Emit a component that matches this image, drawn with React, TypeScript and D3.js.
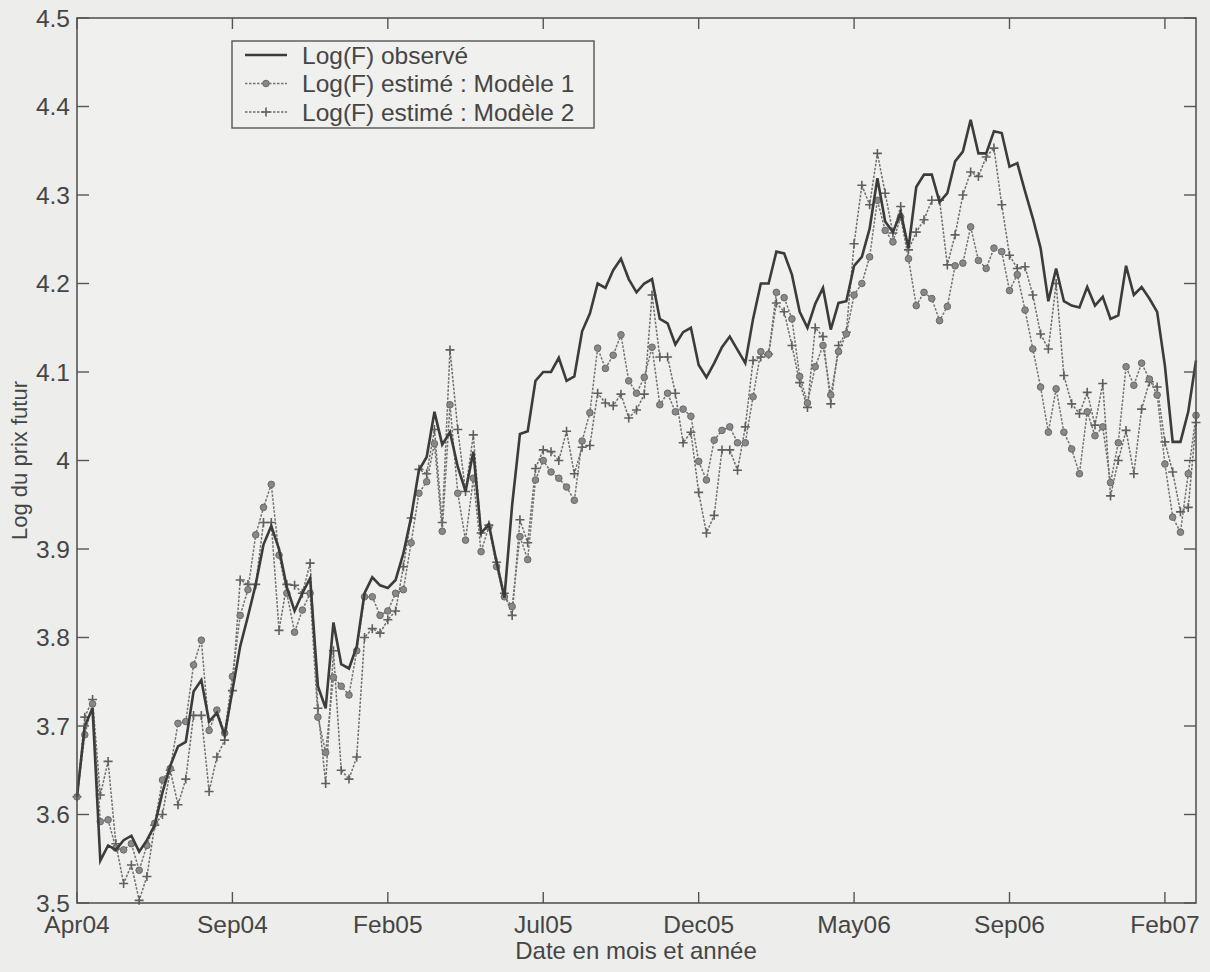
import React from "react";
import * as d3 from "d3";

const observed = [
  3.62, 3.70, 3.72, 3.548, 3.565, 3.56, 3.571, 3.576, 3.558, 3.571,
  3.588, 3.625, 3.655, 3.677, 3.682, 3.739, 3.752, 3.705, 3.715, 3.69,
  3.74, 3.79, 3.824, 3.86, 3.905, 3.926, 3.9, 3.857, 3.83, 3.85,
  3.867, 3.745, 3.72, 3.817, 3.77, 3.765, 3.79, 3.85, 3.868, 3.859,
  3.856, 3.865, 3.895, 3.936, 3.989, 4.004, 4.055, 4.018, 4.032, 3.993,
  3.965, 4.01, 3.918, 3.928, 3.885, 3.845, 3.95, 4.03, 4.033, 4.09,
  4.1, 4.1, 4.116, 4.09, 4.095, 4.146, 4.166, 4.2, 4.195, 4.215,
  4.228, 4.205, 4.19, 4.2, 4.205, 4.16, 4.155, 4.131, 4.145, 4.15,
  4.108, 4.094, 4.11, 4.128, 4.14, 4.125, 4.11, 4.16, 4.2, 4.2,
  4.236, 4.234, 4.21, 4.168, 4.15, 4.177, 4.195, 4.148, 4.178, 4.18,
  4.22, 4.23, 4.262, 4.319, 4.27, 4.258, 4.28, 4.24, 4.309, 4.323,
  4.323, 4.292, 4.302, 4.338, 4.349, 4.385, 4.347, 4.347, 4.372, 4.37,
  4.332, 4.336, 4.304, 4.274, 4.24, 4.18, 4.217, 4.18, 4.175, 4.173,
  4.196, 4.175, 4.185, 4.16, 4.164, 4.22, 4.187, 4.196, 4.183, 4.168,
  4.107, 4.021, 4.021, 4.055, 4.113,
];

const model1 = [
  3.62, 3.69, 3.725, 3.592, 3.594, 3.562, 3.56, 3.567, 3.537, 3.565,
  3.59, 3.639, 3.652, 3.703, 3.705, 3.769, 3.797, 3.695, 3.718, 3.692,
  3.756, 3.825, 3.854, 3.916, 3.947, 3.973, 3.893, 3.85, 3.806, 3.831,
  3.85, 3.71, 3.67, 3.755, 3.745, 3.735, 3.785, 3.846, 3.846, 3.825,
  3.83, 3.85, 3.854, 3.907, 3.963, 3.976, 4.019, 3.92, 4.063, 3.963,
  3.91, 3.98, 3.897, 3.925, 3.88, 3.846, 3.835, 3.914, 3.888, 3.978,
  4.0, 3.987, 3.98, 3.97, 3.955, 4.022, 4.054, 4.127, 4.104, 4.119,
  4.142, 4.09, 4.076, 4.094, 4.128, 4.063, 4.076, 4.055, 4.058, 4.05,
  3.999, 3.978, 4.023, 4.034, 4.038, 4.02, 4.02, 4.072, 4.123, 4.12,
  4.19, 4.184, 4.16, 4.095, 4.065, 4.106, 4.13, 4.074, 4.123, 4.143,
  4.187, 4.2, 4.23, 4.294, 4.26, 4.247, 4.275, 4.228, 4.175, 4.19,
  4.183, 4.158, 4.174, 4.22, 4.223, 4.264, 4.226, 4.217, 4.24, 4.236,
  4.192, 4.21, 4.17, 4.126, 4.083, 4.032, 4.081, 4.032, 4.013, 3.985,
  4.055, 4.028, 4.038, 3.975, 4.02, 4.106, 4.085, 4.11, 4.092, 4.074,
  3.996, 3.936, 3.919, 3.985, 4.051,
];

const model2 = [
  3.62, 3.71, 3.73, 3.622, 3.66, 3.567, 3.522, 3.543, 3.503, 3.53,
  3.588, 3.6, 3.65, 3.611, 3.64, 3.712, 3.712, 3.626, 3.665, 3.684,
  3.74, 3.865, 3.86, 3.86, 3.93, 3.93, 3.808, 3.86, 3.859, 3.85,
  3.884, 3.72, 3.635, 3.785, 3.65, 3.64, 3.665, 3.8, 3.81, 3.805,
  3.82, 3.83, 3.88, 3.935, 3.99, 3.985, 4.035, 3.93, 4.125, 4.035,
  3.965, 4.029, 3.918, 3.927, 3.885, 3.85, 3.825, 3.933, 3.907, 3.991,
  4.012, 4.01, 4.0, 4.033, 3.985, 4.015, 4.017, 4.076, 4.065, 4.062,
  4.075, 4.048, 4.057, 4.075, 4.187, 4.117, 4.117, 4.076, 4.02, 4.032,
  3.964, 3.918, 3.938, 4.012, 4.012, 3.989, 4.038, 4.113, 4.117, 4.12,
  4.178, 4.168, 4.13, 4.088, 4.06, 4.15, 4.14, 4.064, 4.13, 4.145,
  4.245, 4.311, 4.289, 4.347, 4.302, 4.257, 4.287, 4.238, 4.258, 4.272,
  4.294, 4.294, 4.221, 4.255, 4.3, 4.326, 4.321, 4.343, 4.353, 4.289,
  4.232, 4.217, 4.219, 4.187, 4.143, 4.126, 4.2, 4.096, 4.064, 4.053,
  4.077, 4.04, 4.087, 3.96, 4.0, 4.034, 3.985, 4.058, 4.089, 4.083,
  4.021, 3.987, 3.942, 3.947, 4.043,
];

const xTickIndex = [0, 20, 40, 60, 80, 100, 120, 140];
const xTickLabels = ["Apr04", "Sep04", "Feb05", "Jul05", "Dec05", "May06", "Sep06", "Feb07"];
const yTicks = [3.5, 3.6, 3.7, 3.8, 3.9, 4.0, 4.1, 4.2, 4.3, 4.4, 4.5];
const yTickLabels = ["3.5", "3.6", "3.7", "3.8", "3.9", "4", "4.1", "4.2", "4.3", "4.4", "4.5"];
const legendLabels = ["Log(F) observé", "Log(F) estimé : Modèle 1", "Log(F) estimé : Modèle 2"];

const W = 1210;
const H = 972;
const L = 77, R = 1196, T = 18, B = 903;
const FONT = "'Liberation Sans', Arial, Helvetica, sans-serif";
const TXT = "#454545";
const AX = "#555";

export default function App() {
  const x = d3.scaleLinear().domain([0, observed.length - 1]).range([L, R]);
  const y = d3.scaleLinear().domain([3.5, 4.5]).range([B, T]);
  const line = d3
    .line<number>()
    .x((_, i) => x(i))
    .y((d) => y(d));

  const plus = (cx: number, cy: number, s = 4.5) =>
    `M${cx - s},${cy}H${cx + s}M${cx},${cy - s}V${cy + s}`;

  const legendX = 232, legendY = 41, legendW = 362, legendH = 87;
  const rowY = [55, 83.5, 112];
  const sx1 = 245, sx2 = 287, smid = 266;

  return (
    <svg
      width={W}
      height={H}
      style={{ position: "absolute", left: 0, top: 0, display: "block" }}
      fontFamily={FONT}
    >
      <rect x={0} y={0} width={W} height={H} fill="#ededeb" />
      <rect x={L} y={T} width={R - L} height={B - T} fill="#f0f0ee" />

      {/* model 2 */}
      <path d={line(model2) || ""} fill="none" stroke="#6e6e6e" strokeWidth={1.5} strokeDasharray="2.5,1.5" />
      <path
        d={model2.map((v, i) => plus(x(i), y(v))).join("")}
        stroke="#606060"
        strokeWidth={1.6}
        fill="none"
      />
      {/* model 1 */}
      <path d={line(model1) || ""} fill="none" stroke="#747474" strokeWidth={1.5} strokeDasharray="2.5,1.5" />
      {model1.map((v, i) => (
        <circle key={i} cx={x(i)} cy={y(v)} r={3.3} fill="#888" stroke="#6a6a6a" strokeWidth={1} />
      ))}
      {/* observed */}
      <path d={line(observed) || ""} fill="none" stroke="#3c3c3c" strokeWidth={2.6} strokeLinejoin="miter" />

      {/* axes box */}
      <rect x={L} y={T} width={R - L} height={B - T} fill="none" stroke={AX} strokeWidth={1.6} />

      {/* y ticks */}
      {yTicks.map((t, k) => (
        <g key={"y" + k}>
          <line x1={L} x2={L + 12} y1={y(t)} y2={y(t)} stroke={AX} strokeWidth={1.4} />
          <line x1={R} x2={R - 12} y1={y(t)} y2={y(t)} stroke={AX} strokeWidth={1.4} />
          <text x={70} y={y(t)} dy="0.36em" textAnchor="end" fontSize={24.5} fill={TXT}>
            {yTickLabels[k]}
          </text>
        </g>
      ))}

      {/* x ticks */}
      {xTickIndex.map((t, k) => (
        <g key={"x" + k}>
          <line x1={x(t)} x2={x(t)} y1={B} y2={B - 11} stroke={AX} strokeWidth={1.4} />
          <line x1={x(t)} x2={x(t)} y1={T} y2={T + 11} stroke={AX} strokeWidth={1.4} />
          <text x={x(t)} y={933} textAnchor="middle" fontSize={24.5} fill={TXT}>
            {xTickLabels[k]}
          </text>
        </g>
      ))}

      <text x={636} y={959} textAnchor="middle" fontSize={24} fill={TXT}>
        Date en mois et année
      </text>
      <text
        transform={`translate(27,${(T + B) / 2}) rotate(-90)`}
        textAnchor="middle"
        fontSize={22}
        fill={TXT}
      >
        Log du prix futur
      </text>

      {/* legend */}
      <rect x={legendX} y={legendY} width={legendW} height={legendH} fill="#f0f0ee" stroke={AX} strokeWidth={1.4} />
      <line x1={sx1} x2={sx2} y1={rowY[0]} y2={rowY[0]} stroke="#3c3c3c" strokeWidth={2.6} />
      <line x1={sx1} x2={sx2} y1={rowY[1]} y2={rowY[1]} stroke="#747474" strokeWidth={1.5} strokeDasharray="2.5,1.5" />
      <circle cx={smid} cy={rowY[1]} r={3.3} fill="#888" stroke="#6a6a6a" strokeWidth={1} />
      <line x1={sx1} x2={sx2} y1={rowY[2]} y2={rowY[2]} stroke="#6e6e6e" strokeWidth={1.5} strokeDasharray="2.5,1.5" />
      <path d={plus(smid, rowY[2])} stroke="#606060" strokeWidth={1.6} />
      {legendLabels.map((s, k) => (
        <text key={s} x={302} y={rowY[k]} dy="0.36em" fontSize={24.5} fill={TXT}>
          {s}
        </text>
      ))}
    </svg>
  );
}
